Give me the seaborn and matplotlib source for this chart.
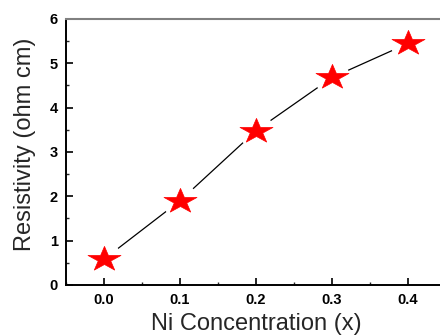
import matplotlib
matplotlib.use("Agg")
import matplotlib.pyplot as plt
from matplotlib.markers import MarkerStyle
from matplotlib.transforms import Affine2D
from matplotlib.ticker import MultipleLocator, FormatStrFormatter
import seaborn as sns
import pandas as pd

ni_conc = [0.0, 0.1, 0.2, 0.3, 0.4]
resistivity = [0.58, 1.90, 3.48, 4.68, 5.45]
x_label = "Ni Concentration (x)"
y_label = "Resistivity (ohm cm)"

df = pd.DataFrame({"x": ni_conc, "y": resistivity})

sns.set_style("ticks")
plt.rcParams["font.family"] = ["Liberation Sans", "DejaVu Sans"]

fig = plt.figure(figsize=(4.4, 3.36), dpi=100)
ax = fig.add_axes([0.15, 0.152, 0.864, 0.7915])

sns.lineplot(data=df, x="x", y="y", ax=ax, color="black", linewidth=0.9, zorder=1)
sns.scatterplot(data=df, x="x", y="y", ax=ax, marker="o", s=650, color="white",
                edgecolor="none", linewidth=0, zorder=2)
star = MarkerStyle("*", transform=Affine2D().scale(1.22, 0.92))
sns.scatterplot(data=df, x="x", y="y", ax=ax, marker=star, s=420, color="#ff0000",
                edgecolor="#ff0000", linewidth=0.5, zorder=3)

ax.set_xlim(-0.05, 0.45)
ax.set_ylim(0, 6)
ax.xaxis.set_major_locator(MultipleLocator(0.1))
ax.xaxis.set_minor_locator(MultipleLocator(0.05))
ax.yaxis.set_major_locator(MultipleLocator(1))
ax.yaxis.set_minor_locator(MultipleLocator(0.5))
ax.xaxis.set_major_formatter(FormatStrFormatter("%.1f"))

ax.tick_params(axis="both", which="major", direction="in", length=5, width=1.2,
               labelsize=10.5, pad=6, top=False, right=False, colors="black")
ax.tick_params(axis="both", which="minor", direction="in", length=2.5, width=1.0,
               top=False, right=False)
for lab in ax.get_xticklabels() + ax.get_yticklabels():
    lab.set_fontweight("bold")

for side in ["left", "bottom"]:
    ax.spines[side].set_linewidth(1.4)
    ax.spines[side].set_color("black")
ax.spines["top"].set_color("#808080")
ax.spines["top"].set_linewidth(1.5)
ax.spines["right"].set_color("#808080")
ax.spines["right"].set_linewidth(1.5)

ax.set_xlabel(x_label, fontsize=17, labelpad=4)
ax.set_ylabel(y_label, fontsize=17)
ax.yaxis.set_label_coords(-0.078, 0.53)

fig.savefig("out.png", dpi=100)
